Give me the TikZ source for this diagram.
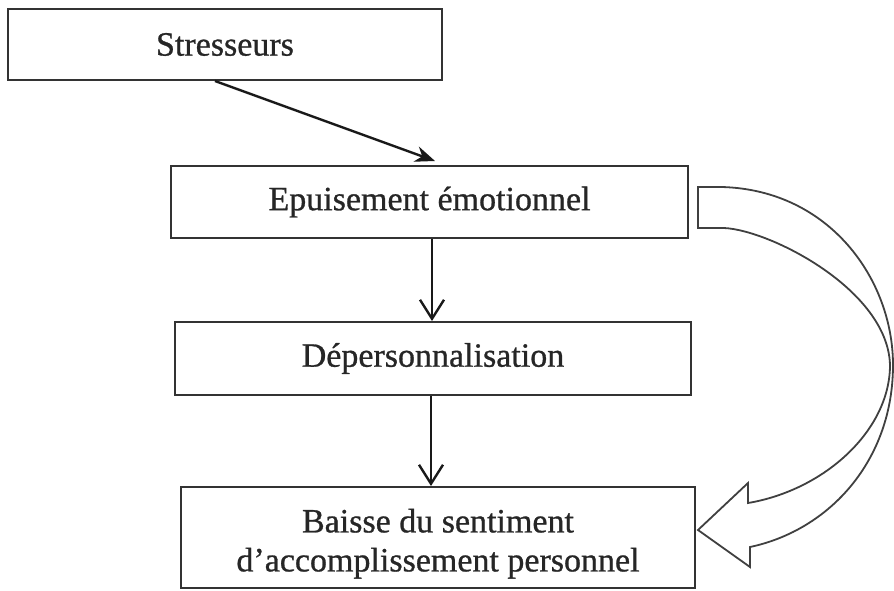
\documentclass[tikz,border=0pt]{standalone}
\usepackage{fontspec}
\setmainfont{Liberation Serif}
\newfontfamily\boxfont{Liberation Serif}[RawFeature={embolden=0.8}]
\usetikzlibrary{arrows.meta}
\begin{document}
\begin{tikzpicture}[x=0.5pt,y=-0.5pt,>=Stealth,
	box/.style={draw=black!80,line width=1pt,inner sep=0pt,align=center,
		text=black!85,font=\boxfont\fontsize{17}{19.5}\selectfont},
	flow/.style={draw=black!90,line width=1.2pt}]
	\useasboundingbox (0,0) rectangle (894,590);
	\node[box,minimum width=217pt,minimum height=35.5pt] (stress) at (225,44.5) {Stresseurs};
	\node[box,minimum width=258.5pt,minimum height=36pt] (epuis) at (429.5,202) {Epuisement émotionnel};
	\node[box,minimum width=258pt,minimum height=36.5pt] (deper) at (433,358.5) {Dépersonnalisation};
	\node[box,minimum width=257pt,minimum height=50.5pt] (baisse) at (438,537.5) {\rule{0pt}{18pt}Baisse du sentiment\\d’accomplissement personnel};
	% arrows between the boxes
	\draw[flow,-{Stealth[length=10pt,width=8pt]}] ([xshift=-5pt]stress.south) -- ([xshift=2.75pt,yshift=2pt]epuis.north);
	\draw[flow,-{Straight Barb[length=9.5pt,width=12pt]}] ([xshift=1.25pt]epuis.south) -- ([xshift=1.25pt]epuis.south |- deper.north);
	\draw[flow,-{Straight Barb[length=9.5pt,width=12pt]}] ([xshift=-1pt]deper.south) -- ([xshift=-1pt]deper.south |- baisse.north);
	% curved block arrow
	\draw[draw=black!75,line width=0.9pt,line join=miter]
	(698,187) -- (722,187) .. controls (830,190) and (893,280) ..
	(893,365) .. controls (893,460) and (830,530) ..
	(750,547) -- (750,567) -- (698,530) -- (748,483) -- (748,503)
	.. controls (825,490) and (890,430) ..
	(890,365) .. controls (888,290) and (770,230) ..
	(724,228) -- (698,228) -- cycle;
\end{tikzpicture}
\end{document}
